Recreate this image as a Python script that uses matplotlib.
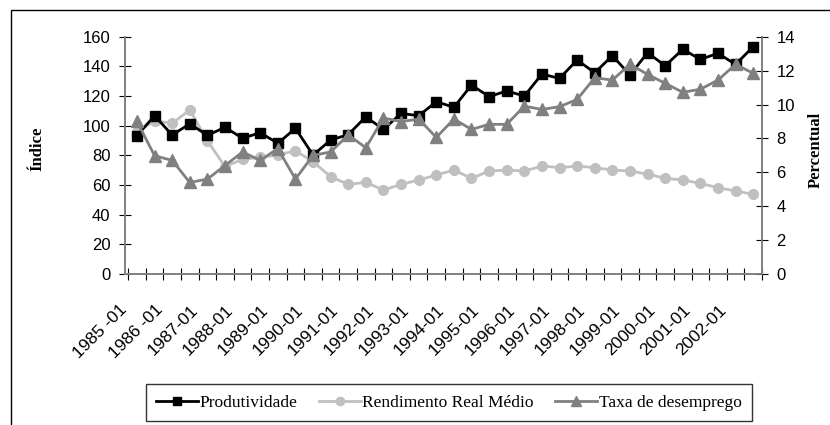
import matplotlib
matplotlib.use("Agg")
import matplotlib.pyplot as plt
from matplotlib.patches import Rectangle

periods = []
for y in range(1985, 2003):
    periods += [f"{y}-01", f"{y}-07"]

tick_labels = ["1985 -01", "1986 -01", "1987-01", "1988-01", "1989-01", "1990-01",
               "1991-01", "1992-01", "1993-01", "1994-01", "1995-01", "1996-01",
               "1997-01", "1998-01", "1999-01", "2000-01", "2001-01", "2002-01"]

produtividade = [93.3, 106.7, 93.7, 101.3, 93.5, 98.9, 91.5, 95.3, 88.1, 98.2, 80.2, 90.3,
                 94.0, 106.0, 97.5, 108.3, 106.7, 116.2, 112.4, 127.4, 119.6, 123.4, 120.0, 134.8,
                 131.9, 144.3, 135.7, 147.2, 134.2, 149.2, 140.4, 151.5, 144.7, 148.8, 141.3, 153.3]
rendimento = [96.0, 103.4, 101.6, 110.6, 89.9, 72.4, 77.3, 78.7, 80.2, 83.1, 75.7, 65.6,
              60.4, 61.8, 56.6, 60.4, 63.4, 66.7, 70.1, 64.5, 69.4, 70.1, 69.4, 72.8,
              71.7, 72.8, 71.7, 70.1, 69.4, 67.4, 64.5, 63.4, 61.1, 58.2, 56.0, 53.7]
desemprego = [9.0, 6.98, 6.7, 5.4, 5.6, 6.4, 7.2, 6.7, 7.4, 5.6, 7.0, 7.2,
              8.2, 7.45, 9.2, 8.99, 9.14, 8.06, 9.14, 8.53, 8.83, 8.83, 9.9, 9.71,
              9.87, 10.3, 11.58, 11.44, 12.37, 11.78, 11.25, 10.72, 10.9, 11.44, 12.37, 11.84]
series_names = ["Produtividade", "Rendimento Real Médio", "Taxa de desemprego"]

W, H = 830, 425
fig = plt.figure(figsize=(W / 100, H / 100), dpi=100)
ax = fig.add_axes([125 / W, 1 - 274 / H, (762 - 125) / W, (274 - 36.7) / H])
ax2 = ax.twinx()

x = list(range(len(periods)))
spine_c = "#808080"

l1, = ax.plot(x, produtividade, color="black", lw=2.0, marker="s", ms=7.5, mfc="black", mec="black", zorder=3)
l2, = ax.plot(x, rendimento, color="#c0c0c0", lw=2.0, marker="o", ms=7, mfc="#c0c0c0", mec="#c0c0c0", zorder=2)
l3, = ax2.plot(x, desemprego, color="#808080", lw=2.0, marker="^", ms=8, mfc="#808080", mec="#808080", zorder=3)

ax.set_xlim(-0.5, len(periods) - 0.5)
ax.set_ylim(0, 160)
ax2.set_ylim(0, 14)
ax.set_yticks(range(0, 161, 20))
ax2.set_yticks(range(0, 15, 2))

ax.set_xticks([i - 0.5 for i in range(len(periods) + 1)])
ax.set_xticklabels([])
ax.set_xticks([i - 0.68 for i in range(0, len(periods), 2)], minor=True)
ax.set_xticklabels(tick_labels, minor=True, rotation=45, ha="right", va="center",
                   rotation_mode="anchor", fontsize=12.5, family="Liberation Sans")
ax.tick_params(axis="x", which="minor", length=0, pad=24)
ax.tick_params(axis="x", which="major", direction="inout", length=9, width=0.8, color="black")
ax.tick_params(axis="y", direction="inout", length=9, width=0.8, color="black", labelsize=12, pad=6)
ax2.tick_params(axis="y", direction="inout", length=9, width=0.8, color="black", labelsize=12, pad=6)
for lab in ax.get_yticklabels() + ax2.get_yticklabels():
    lab.set_family("Liberation Sans")

for a in (ax, ax2):
    a.spines["top"].set_visible(False)
    for s in ("left", "right", "bottom"):
        a.spines[s].set_color(spine_c)
        a.spines[s].set_linewidth(1.2)
ax2.set_zorder(ax.get_zorder() + 1)
ax2.patch.set_visible(False)

fig.text(37 / W, 1 - 149 / H, "Índice", rotation=90, ha="center", va="center",
         family="Liberation Serif", fontweight="bold", fontsize=12)
fig.text(816 / W, 1 - 150 / H, "Percentual", rotation=90, ha="center", va="center",
         family="Liberation Serif", fontweight="bold", fontsize=12)

leg = fig.legend([l1, l2, l3], series_names,
                 loc="lower left", bbox_to_anchor=(146 / W, 4 / H, (752 - 146) / W, 35 / H),
                 ncol=3, mode="expand", frameon=True, fancybox=False,
                 prop={"family": "Liberation Serif", "size": 12.5},
                 handlelength=2.4, handletextpad=0.1, borderpad=0.6, columnspacing=1.0,
                 borderaxespad=0, markerscale=0.85)
leg.get_frame().set_edgecolor("black")
leg.get_frame().set_linewidth(1.0)

fig.patches.append(Rectangle((11 / W, -0.1), 1.2, 1 - 10 / H + 0.1, transform=fig.transFigure,
                             fill=False, edgecolor="black", lw=1.0))

fig.savefig("out.png", dpi=100)
